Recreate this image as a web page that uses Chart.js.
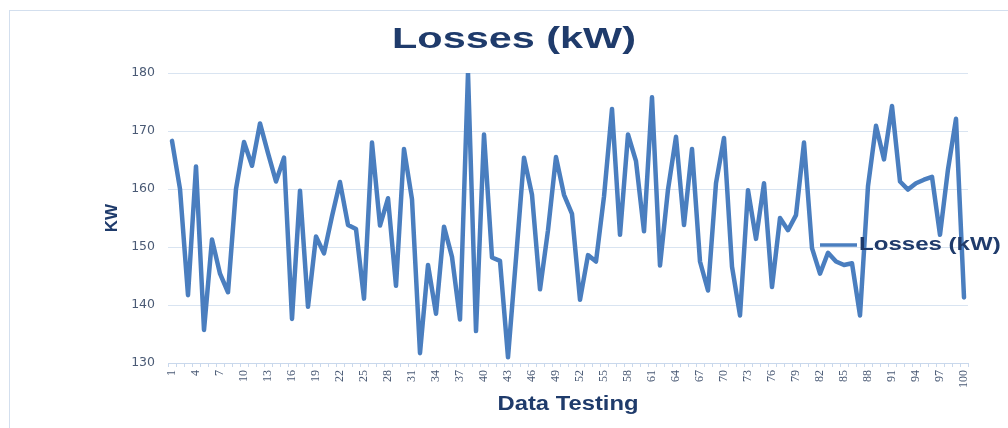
<!DOCTYPE html>
<html>
<head>
<meta charset="utf-8">
<script src="https://cdn.jsdelivr.net/npm/chart.js@4.4.1/dist/chart.umd.min.js"></script>
<style>
  html, body { margin: 0; padding: 0; background: #ffffff; overflow: hidden; }
  #wrap { position: relative; width: 1008px; height: 428px; }
  #frame { position: absolute; left: 9px; top: 10px; width: 1100px; height: 500px; border: 1px solid #d3dfee; box-sizing: border-box; }
  canvas { position: absolute; left: 0; top: 0; }
</style>
</head>
<body>
<div id="wrap">
  <div id="frame"></div>
  <canvas id="c"></canvas>
</div>
<script>
// ---- data ----
const categories = [1,2,3,4,5,6,7,8,9,10,11,12,13,14,15,16,17,18,19,20,
  21,22,23,24,25,26,27,28,29,30,31,32,33,34,35,36,37,38,39,40,
  41,42,43,44,45,46,47,48,49,50,51,52,53,54,55,56,57,58,59,60,
  61,62,63,64,65,66,67,68,69,70,71,72,73,74,75,76,77,78,79,80,
  81,82,83,84,85,86,87,88,89,90,91,92,93,94,95,96,97,98,99,100];
const losses = [168.3,160.0,141.7,163.9,135.7,151.3,145.4,142.2,160.0,168.1,
  164.0,171.3,166.2,161.3,165.4,137.6,159.7,139.7,151.8,148.9,
  155.3,161.2,153.8,153.1,141.1,168.0,153.7,158.4,143.3,166.9,
  158.2,131.7,146.9,138.5,153.5,148.3,137.5,180.0,135.5,169.4,
  148.2,147.6,131.0,148.0,165.4,159.0,142.7,152.9,165.5,159.0,
  155.7,140.9,148.6,147.5,158.7,173.8,152.1,169.4,164.8,152.7,
  175.8,146.8,159.9,169.0,153.8,166.9,147.5,142.5,161.0,168.8,
  146.6,138.2,159.8,151.4,161.0,143.1,155.0,152.9,155.5,168.0,
  149.8,145.4,149.0,147.5,146.9,147.2,138.2,160.5,170.9,165.1,
  174.3,161.3,159.9,161.0,161.6,162.1,152.1,163.4,172.1,141.3];
const shownTicks = [1,4,7,10,13,16,19,22,25,28,31,34,37,40,43,46,49,52,55,58,
  61,64,67,70,73,76,79,82,85,88,91,94,97,100];
const yTicks = [130,140,150,160,170,180];
const seriesName = 'Losses (kW)';
const chartTitle = 'Losses (kW)';
const xTitle = 'Data Testing';
const yTitle = 'KW';

const NAVY = '#1f3b6b';
const LINE = '#4a7ebf';
const GRID = '#d9e4f1';
const TICKC = '#4a5a75';

// horizontal stretch of some bold fonts (the reference text is drawn wide)
const STRETCH = { '30': 1.38, '19.5': 1.22, '18.5': 1.3 };

const stretchPlugin = {
  id: 'stretchText',
  beforeInit(chart) {
    const ctx = chart.ctx;
    const orig = ctx.fillText;
    ctx.fillText = function (text, x, y, maxWidth) {
      const m = /bold\s+([\d.]+)px/.exec(ctx.font);
      const k = m ? STRETCH[String(parseFloat(m[1]))] : undefined;
      if (!k) { return orig.apply(ctx, arguments); }
      const M = ctx.getTransform();
      const p = M.transformPoint(new DOMPoint(x, y));
      ctx.save();
      ctx.setTransform(new DOMMatrix().translate(p.x, p.y).scale(k, 1).translate(-p.x, -p.y).multiply(M));
      orig.call(ctx, text, x, y);
      ctx.restore();
    };
  }
};

const legendPlugin = {
  id: 'insideLegend',
  afterDraw(chart) {
    const ctx = chart.ctx;
    const ds = chart.data.datasets[0];
    const y = 245;
    ctx.save();
    ctx.strokeStyle = ds.borderColor;
    ctx.lineWidth = 3.5;
    ctx.beginPath();
    ctx.moveTo(820, y);
    ctx.lineTo(857, y);
    ctx.stroke();
    ctx.fillStyle = NAVY;
    ctx.font = 'bold 18.5px "Liberation Sans", Arial, sans-serif';
    ctx.textAlign = 'left';
    ctx.textBaseline = 'middle';
    ctx.fillText(ds.label, 859, y);
    ctx.restore();
  }
};

new Chart(document.getElementById('c'), {
  type: 'line',
  data: {
    labels: categories,
    datasets: [{
      label: seriesName,
      data: losses,
      borderColor: LINE,
      backgroundColor: LINE,
      borderWidth: 4.5,
      borderJoinStyle: 'round',
      borderCapStyle: 'round',
      pointRadius: 0,
      pointHoverRadius: 0,
      tension: 0,
      fill: false
    }]
  },
  plugins: [stretchPlugin, legendPlugin],
  options: {
    responsive: true,
    maintainAspectRatio: false,
    animation: false,
    events: [],
    layout: { padding: { left: 60, right: 40, top: 0, bottom: 0 } },
    plugins: {
      legend: { display: false },
      tooltip: { enabled: false },
      title: {
        display: true,
        text: chartTitle,
        color: NAVY,
        font: { family: '"Liberation Sans", Arial, sans-serif', size: 30, weight: 'bold', lineHeight: 1.2 },
        padding: { top: 22, bottom: 15 }
      }
    },
    scales: {
      x: {
        type: 'category',
        offset: true,
        afterFit(scale) { scale.height = 65; },
        grid: {
          display: true,
          drawOnChartArea: false,
          drawTicks: true,
          tickLength: 4,
          color: '#c9d8ec',
          offset: true
        },
        border: { display: true, color: '#c9d8ec', width: 1 },
        ticks: {
          autoSkip: false,
          minRotation: 90,
          maxRotation: 90,
          padding: 3,
          color: TICKC,
          font: { family: '"Liberation Serif", serif', size: 12 },
          callback(value, index) {
            const lab = categories[index];
            return shownTicks.includes(lab) ? String(lab) : '';
          }
        },
        title: {
          display: true,
          text: xTitle,
          color: NAVY,
          font: { family: '"Liberation Sans", Arial, sans-serif', size: 19.5, weight: 'bold', lineHeight: 1.2 },
          padding: { top: 0, bottom: 12 }
        }
      },
      y: {
        min: 130,
        max: 180,
        afterFit(scale) { scale.width = 108; },
        afterBuildTicks(scale) { scale.ticks = yTicks.map(v => ({ value: v })); },
        grid: { color: GRID, lineWidth: 1, drawTicks: false },
        border: { display: false },
        ticks: {
          padding: 13,
          color: TICKC,
          font: { family: '"DejaVu Sans", sans-serif', size: 12.5 }
        },
        title: {
          display: true,
          text: yTitle,
          color: NAVY,
          font: { family: '"Liberation Sans", Arial, sans-serif', size: 17, weight: 'bold', lineHeight: 1.2 },
          padding: { top: 42, bottom: 0 }
        }
      }
    }
  }
});
</script>
</body>
</html>
